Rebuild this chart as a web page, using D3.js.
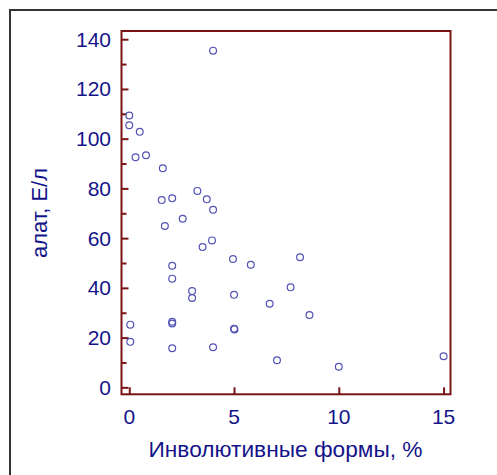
<!DOCTYPE html>
<html>
<head>
<meta charset="utf-8">
<script src="https://cdn.jsdelivr.net/npm/d3@7"></script>
<style>
  html, body { margin: 0; padding: 0; background: #ffffff; }
  svg { display: block; }
</style>
</head>
<body>
<svg id="chart" width="497" height="475"></svg>
<script>
// Involutive forms (%) versus ALT (U/L), one entry per patient
const involutiveForms = [
  4.0, 0.0, 0.0, 0.5, 0.3, 0.8, 1.6, 1.55, 2.05, 3.25, 3.7, 4.0,
  2.55, 1.7, 3.95, 3.5, 4.95, 2.05, 2.05, 3.0, 3.0, 5.0, 0.05, 2.05,
  2.05, 5.0, 5.02, 0.05, 2.05, 4.0, 5.8, 8.15, 7.7, 6.7, 8.6, 7.05,
  10.0, 15.0
];
const altValues = [
  135.4, 109.3, 105.4, 102.8, 92.5, 93.3, 88.1, 75.3, 76.0, 79.0, 75.6, 71.4,
  67.8, 64.9, 59.1, 56.4, 51.6, 48.9, 43.7, 38.7, 35.9, 37.2, 25.2, 26.4,
  25.7, 23.6, 23.3, 18.3, 15.7, 16.1, 49.3, 52.3, 40.2, 33.6, 29.1, 10.9,
  8.3, 12.5
];

const xTicks = [0, 5, 10, 15];
const yTicks = [0, 20, 40, 60, 80, 100, 120, 140];
const yMinorTicks = [10, 30, 50, 70, 90, 110, 130];

const xTitle = "Инволютивные формы, %";
const yTitle = "алат, Е/л";

const axisColor = "#7a1414";
const textColor = "#14148a";
const pointColor = "#5252b4";
const font = "'Liberation Sans', Arial, sans-serif";

const svg = d3.select("#chart");

// outer frame (top and left edges)
svg.append("path")
  .attr("d", "M10,475 L10,10 L497,10")
  .attr("fill", "none")
  .attr("stroke", "#333333")
  .attr("stroke-width", 2);

const plot = { left: 121.5, top: 31, right: 450.5, bottom: 394.3 };

const x = d3.scaleLinear().domain([-0.37, 15.33]).range([plot.left, plot.right]);
const y = d3.scaleLinear().domain([-2.8, 143.3]).range([plot.bottom, plot.top]);

// frame of the plot area
svg.append("rect")
  .attr("x", plot.left).attr("y", plot.top)
  .attr("width", plot.right - plot.left)
  .attr("height", plot.bottom - plot.top)
  .attr("fill", "none")
  .attr("stroke", axisColor)
  .attr("stroke-width", 2);

// y axis: major and minor ticks pointing inward
const yAxis = d3.axisRight(y).tickValues(yTicks).tickSize(7).tickFormat("");
const yAxisG = svg.append("g").attr("transform", `translate(${plot.left},0)`).call(yAxis);
const yMinor = d3.axisRight(y).tickValues(yMinorTicks).tickSize(5).tickFormat("");
const yMinorG = svg.append("g").attr("transform", `translate(${plot.left},0)`).call(yMinor);

// x axis: ticks pointing up from the bottom edge
const xAxis = d3.axisTop(x).tickValues(xTicks).tickSize(7).tickFormat("");
const xAxisG = svg.append("g").attr("transform", `translate(0,${plot.bottom})`).call(xAxis);

[yAxisG, yMinorG, xAxisG].forEach(g => {
  g.select(".domain").remove();
  g.selectAll(".tick line").attr("stroke", axisColor).attr("stroke-width", 2);
});

// tick labels
svg.append("g").selectAll("text")
  .data(yTicks)
  .join("text")
  .attr("x", 111)
  .attr("y", d => y(d))
  .attr("dy", "0.36em")
  .attr("text-anchor", "end")
  .attr("font-family", font)
  .attr("font-size", 21)
  .attr("fill", textColor)
  .text(d => d);

svg.append("g").selectAll("text")
  .data(xTicks)
  .join("text")
  .attr("x", d => x(d))
  .attr("y", 423.5)
  .attr("text-anchor", "middle")
  .attr("font-family", font)
  .attr("font-size", 21)
  .attr("fill", textColor)
  .text(d => d);

// axis titles
svg.append("text")
  .attr("x", 285.5)
  .attr("y", 456.5)
  .attr("text-anchor", "middle")
  .attr("font-family", font)
  .attr("font-size", 22)
  .attr("textLength", 274)
  .attr("lengthAdjust", "spacingAndGlyphs")
  .attr("fill", textColor)
  .text(xTitle);

svg.append("text")
  .attr("transform", "translate(47,213) rotate(-90)")
  .attr("text-anchor", "middle")
  .attr("font-family", font)
  .attr("font-size", 22)
  .attr("textLength", 90)
  .attr("lengthAdjust", "spacingAndGlyphs")
  .attr("fill", textColor)
  .text(yTitle);

// data points
const data = involutiveForms.map((v, i) => ({ x: v, y: altValues[i] }));
svg.append("g").selectAll("circle")
  .data(data)
  .join("circle")
  .attr("cx", d => x(d.x))
  .attr("cy", d => y(d.y))
  .attr("r", 3.4)
  .attr("fill", "none")
  .attr("stroke", pointColor)
  .attr("stroke-width", 1.2);
</script>
</body>
</html>
